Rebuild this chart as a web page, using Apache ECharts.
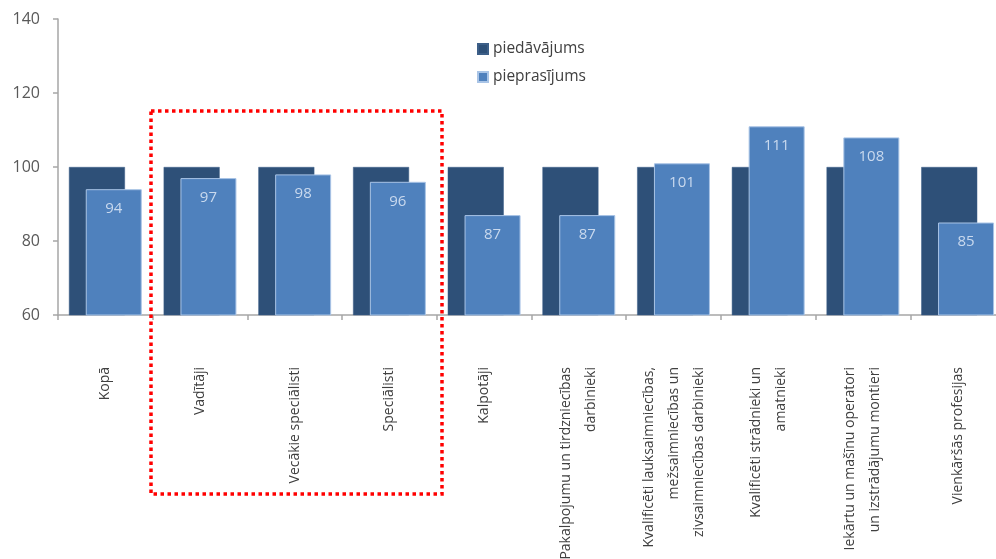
<!DOCTYPE html>
<html>
<head>
<meta charset="utf-8">
<script src="https://cdn.jsdelivr.net/npm/echarts@6/dist/echarts.min.js"></script>
<style>html,body{margin:0;padding:0;background:#fff}#c{width:996px;height:559px}</style>
</head>
<body>
<div id="c"></div>
<script>
const categories = [
  'Kopā',
  'Vadītāji',
  'Vecākie speciālisti',
  'Speciālisti',
  'Kalpotāji',
  'Pakalpojumu un tirdzniecības\ndarbinieki',
  'Kvalificēti lauksaimniecības,\nmežsaimniecības un\nzivsaimniecības darbinieki',
  'Kvalificēti strādnieki un\namatnieki',
  'Iekārtu un mašīnu operatori\nun izstrādājumu montieri',
  'Vienkāršās profesijas'
];
const supply = [100, 100, 100, 100, 100, 100, 100, 100, 100, 100];
const demand = [94, 97, 98, 96, 87, 87, 101, 111, 108, 85];
const seriesNames = ['piedāvājums', 'pieprasījums'];
const yTicks = { min: 60, max: 140, interval: 20 };

const font = 'Open Sans';
const chart = echarts.init(document.getElementById('c'));
chart.setOption({
  animation: false,
  textStyle: { fontFamily: font },
  legend: {
    orient: 'vertical', left: 472, top: 36,
    itemWidth: 10, itemHeight: 10, itemGap: 12,
    icon: 'rect',
    textStyle: { color: '#404040', fontSize: 15.5, fontFamily: font },
    data: seriesNames
  },
  grid: { left: 58, top: 19, width: 947, height: 296, containLabel: false, outerBoundsMode: 'none' },
  xAxis: {
    type: 'category', data: categories,
    axisLine: { lineStyle: { color: '#a6a6a6', width: 1.5 } },
    axisTick: { show: true, length: 5, lineStyle: { color: '#a6a6a6', width: 1.5 } },
    axisLabel: {
      rotate: 90, margin: 52, interval: 0,
      color: '#404040', fontSize: 14, lineHeight: 25, fontFamily: font
    }
  },
  yAxis: {
    type: 'value', min: yTicks.min, max: yTicks.max, interval: yTicks.interval,
    splitLine: { show: false },
    axisLine: { show: true, lineStyle: { color: '#a6a6a6', width: 1.5 } },
    axisTick: { show: true, length: 5, lineStyle: { color: '#a6a6a6', width: 1.5 } },
    axisLabel: { color: '#595959', fontSize: 16, margin: 18, fontFamily: font }
  },
  series: [
    {
      name: seriesNames[0], type: 'bar', data: supply,
      barWidth: 56, barGap: '-70%',
      itemStyle: { color: '#2E5078', borderColor: '#3d5f88', borderWidth: 0.5 }
    },
    {
      name: seriesNames[1], type: 'bar', data: demand,
      barWidth: 56, barGap: '-70%',
      itemStyle: { color: '#4F81BD', borderColor: '#a9c4e6', borderWidth: 1 },
      label: {
        show: true, position: 'insideTop', distance: 12,
        color: '#c9d9ee', fontSize: 15, fontFamily: font
      }
    }
  ],
  graphic: [{
    type: 'rect', z: 100,
    shape: { x: 151, y: 111, width: 291, height: 383 },
    style: { fill: 'none', stroke: '#ff0000', lineWidth: 3.5, lineDash: [3.5, 3.5] }
  }]
});
</script>
</body>
</html>
